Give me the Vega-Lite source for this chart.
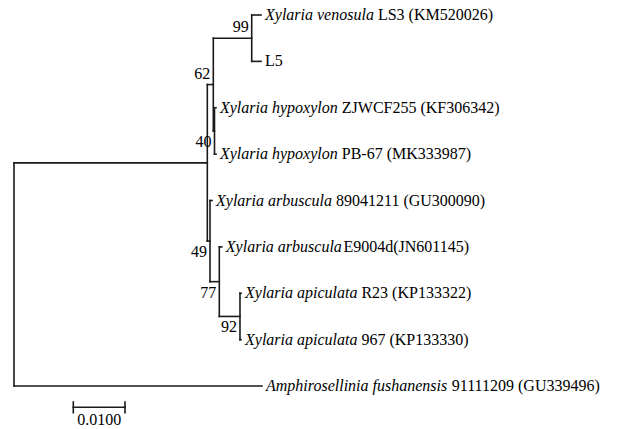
{
  "$schema": "https://vega.github.io/schema/vega-lite/v6.json",
  "width": 619,
  "height": 429,
  "padding": 0,
  "autosize": "none",
  "background": "white",
  "config": {"view": {"stroke": null}},
  "datasets": {
    "branches": [
      {"x": 0, "x2": 0.03739, "y": 3.1875, "y2": 3.1875},
      {"x": 0, "x2": 0.04797, "y": 8, "y2": 8},
      {"x": 0, "x2": 0, "y": 3.1875, "y2": 8},
      {"x": 0.03739, "x2": 0.03739, "y": 1.5, "y2": 4.875},
      {"x": 0.03739, "x2": 0.03855, "y": 1.5, "y2": 1.5},
      {"x": 0.03739, "x2": 0.03791, "y": 4.875, "y2": 4.875},
      {"x": 0.03855, "x2": 0.03855, "y": 0.5, "y2": 2.5},
      {"x": 0.03855, "x2": 0.04598, "y": 0.5, "y2": 0.5},
      {"x": 0.03855, "x2": 0.03878, "y": 2.5, "y2": 2.5},
      {"x": 0.04598, "x2": 0.04598, "y": 0, "y2": 1},
      {"x": 0.04598, "x2": 0.04778, "y": 0, "y2": 0},
      {"x": 0.04598, "x2": 0.04778, "y": 1, "y2": 1},
      {"x": 0.03878, "x2": 0.03878, "y": 2, "y2": 3},
      {"x": 0.03878, "x2": 0.03907, "y": 2, "y2": 2},
      {"x": 0.03878, "x2": 0.03907, "y": 3, "y2": 3},
      {"x": 0.03791, "x2": 0.03791, "y": 4, "y2": 5.75},
      {"x": 0.03791, "x2": 0.0383, "y": 4, "y2": 4},
      {"x": 0.03791, "x2": 0.03971, "y": 5.75, "y2": 5.75},
      {"x": 0.03971, "x2": 0.03971, "y": 5, "y2": 6.5},
      {"x": 0.03971, "x2": 0.0402, "y": 5, "y2": 5},
      {"x": 0.03971, "x2": 0.04371, "y": 6.5, "y2": 6.5},
      {"x": 0.04371, "x2": 0.04371, "y": 6, "y2": 7},
      {"x": 0.04371, "x2": 0.04391, "y": 6, "y2": 6},
      {"x": 0.04371, "x2": 0.04391, "y": 7, "y2": 7}
    ],
    "tips": [
      {"y": 0, "x": 0.04778, "species": "Xylaria venosula", "strain": "LS3 (KM520026)", "sx": 0.07039},
      {"y": 1, "x": 0.04778, "species": "", "strain": "L5", "sx": 0.04855},
      {"y": 2, "x": 0.03907, "species": "Xylaria hypoxylon", "strain": "ZJWCF255 (KF306342)", "sx": 0.0634},
      {"y": 3, "x": 0.03907, "species": "Xylaria hypoxylon", "strain": "PB-67 (MK333987)", "sx": 0.0634},
      {"y": 4, "x": 0.0383, "species": "Xylaria arbuscula", "strain": "89041211 (GU300090)", "sx": 0.06228},
      {"y": 5, "x": 0.0402, "species": "Xylaria arbuscula", "strain": "E9004d(JN601145)", "sx": 0.06373},
      {"y": 6, "x": 0.04391, "species": "Xylaria apiculata", "strain": "R23 (KP133322)", "sx": 0.0672},
      {"y": 7, "x": 0.04391, "species": "Xylaria apiculata", "strain": "967 (KP133330)", "sx": 0.0672},
      {"y": 8, "x": 0.04797, "species": "Amphirosellinia fushanensis", "strain": "91111209 (GU339496)", "sx": 0.08468}
    ],
    "support": [
      {"x": 0.04598, "y": 0.5, "label": "99", "pos": "above"},
      {"x": 0.03855, "y": 1.5, "label": "62", "pos": "above"},
      {"x": 0.03878, "y": 2.5, "label": "40", "pos": "below"},
      {"x": 0.03791, "y": 4.875, "label": "49", "pos": "below"},
      {"x": 0.03971, "y": 5.75, "label": "77", "pos": "below"},
      {"x": 0.04371, "y": 6.5, "label": "92", "pos": "below"}
    ],
    "scalebar": [
      {"x": 0.01147, "x2": 0.02147, "y": 8.459, "y2": 8.459},
      {"x": 0.01147, "x2": 0.01147, "y": 8.345, "y2": 8.576},
      {"x": 0.02147, "x2": 0.02147, "y": 8.345, "y2": 8.576}
    ],
    "scalelabel": [
      {"x": 0.01647, "y": 8.733, "label": "0.0100"}
    ]
  },
  "layer": [
    {
      "data": {"name": "branches"},
      "mark": {"type": "rule", "color": "#1a1a1a", "strokeWidth": 1.6, "strokeCap": "square"},
      "encoding": {
        "x": {"field": "x", "type": "quantitative", "scale": {"domain": [-0.002708, 0.117021], "nice": false, "zero": false}, "axis": null},
        "x2": {"field": "x2"},
        "y": {"field": "y", "type": "quantitative", "scale": {"domain": [-0.3235, 8.927], "nice": false, "zero": false, "reverse": true}, "axis": null},
        "y2": {"field": "y2"}
      }
    },
    {
      "data": {"name": "scalebar"},
      "mark": {"type": "rule", "color": "#1a1a1a", "strokeWidth": 1.6, "strokeCap": "square"},
      "encoding": {
        "x": {"field": "x", "type": "quantitative", "axis": null},
        "x2": {"field": "x2"},
        "y": {"field": "y", "type": "quantitative", "axis": null},
        "y2": {"field": "y2"}
      }
    },
    {
      "data": {"name": "tips"},
      "mark": {"type": "text", "align": "left", "baseline": "middle", "dx": 4, "font": "Liberation Serif", "fontSize": 16, "fontStyle": "italic", "color": "#000000"},
      "encoding": {
        "x": {"field": "x", "type": "quantitative", "axis": null},
        "y": {"field": "y", "type": "quantitative", "axis": null},
        "text": {"field": "species"}
      }
    },
    {
      "data": {"name": "tips"},
      "mark": {"type": "text", "align": "left", "baseline": "middle", "font": "Liberation Serif", "fontSize": 16, "color": "#000000"},
      "encoding": {
        "x": {"field": "sx", "type": "quantitative", "axis": null},
        "y": {"field": "y", "type": "quantitative", "axis": null},
        "text": {"field": "strain"}
      }
    },
    {
      "data": {"name": "support"},
      "transform": [{"filter": "datum.pos === 'above'"}],
      "mark": {"type": "text", "align": "right", "baseline": "middle", "dx": -3, "dy": -11, "font": "Liberation Serif", "fontSize": 16, "color": "#000000"},
      "encoding": {
        "x": {"field": "x", "type": "quantitative", "axis": null},
        "y": {"field": "y", "type": "quantitative", "axis": null},
        "text": {"field": "label"}
      }
    },
    {
      "data": {"name": "support"},
      "transform": [{"filter": "datum.pos === 'below'"}],
      "mark": {"type": "text", "align": "right", "baseline": "middle", "dx": -3, "dy": 11, "font": "Liberation Serif", "fontSize": 16, "color": "#000000"},
      "encoding": {
        "x": {"field": "x", "type": "quantitative", "axis": null},
        "y": {"field": "y", "type": "quantitative", "axis": null},
        "text": {"field": "label"}
      }
    },
    {
      "data": {"name": "scalelabel"},
      "mark": {"type": "text", "align": "center", "baseline": "middle", "font": "Liberation Serif", "fontSize": 16, "color": "#000000"},
      "encoding": {
        "x": {"field": "x", "type": "quantitative", "axis": null},
        "y": {"field": "y", "type": "quantitative", "axis": null},
        "text": {"field": "label"}
      }
    }
  ]
}
